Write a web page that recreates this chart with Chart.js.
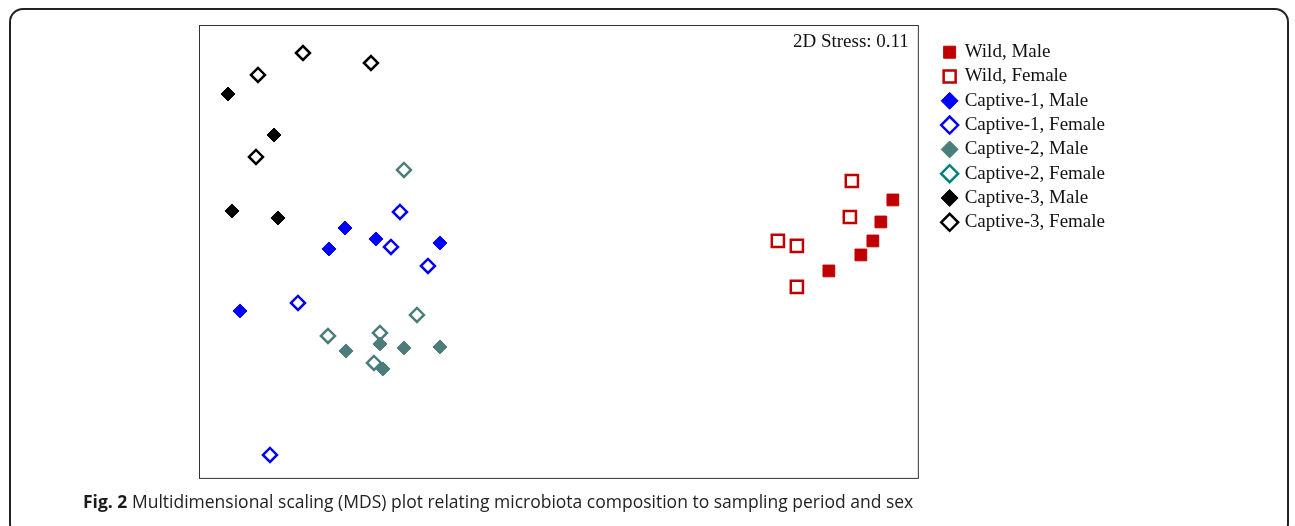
<!DOCTYPE html>
<html>
<head>
<meta charset="utf-8">
<script src="https://cdn.jsdelivr.net/npm/chart.js@4.4.1/dist/chart.umd.min.js"></script>
<style>
  body { margin: 0; background: #fff; }
  .frame {
    position: absolute; left: 9px; top: 8px; width: 1280px; height: 530px;
    border: 2px solid #222; border-radius: 14px; box-sizing: border-box;
  }
  #mds { position: absolute; left: 0; top: 0; }
  .caption {
    position: absolute; left: 83px; top: 489px;
    font-family: "Open Sans", sans-serif; font-size: 17.5px; color: #222; white-space: nowrap;
  }
  .caption b { color: #1a1a1a; }
</style>
</head>
<body>
<div class="frame"></div>
<canvas id="mds" width="1295" height="490"></canvas>
<div class="caption"><b>Fig. 2</b> Multidimensional scaling (MDS) plot relating microbiota composition to sampling period and sex</div>
<script>
// MDS coordinates
const groupNames = [
  'Wild, Male', 'Wild, Female',
  'Captive-1, Male', 'Captive-1, Female',
  'Captive-2, Male', 'Captive-2, Female',
  'Captive-3, Male', 'Captive-3, Female'
];
const wildMale = [[3.34, 0.52], [3.22, 0.30], [3.14, 0.11], [3.02, -0.03], [2.70, -0.19]];
const wildFemale = [[2.93, 0.71], [2.91, 0.35], [2.19, 0.11], [2.38, 0.06], [2.38, -0.35]];
const captive1Male = [[-2.14, 0.24], [-2.30, 0.03], [-1.83, 0.13], [-1.19, 0.09], [-3.19, -0.59]];
const captive1Female = [[-1.59, 0.40], [-1.68, 0.05], [-1.31, -0.14], [-2.61, -0.51], [-2.89, -2.03]];
const captive2Male = [[-2.13, -0.99], [-1.79, -0.92], [-1.55, -0.96], [-1.19, -0.95], [-1.76, -1.17]];
const captive2Female = [[-1.55, 0.82], [-1.42, -0.63], [-2.31, -0.84], [-1.79, -0.81], [-1.85, -1.11]];
const captive3Male = [[-3.31, 1.58], [-2.85, 1.17], [-3.27, 0.41], [-2.81, 0.34]];
const captive3Female = [[-2.56, 1.99], [-3.01, 1.77], [-1.88, 1.89], [-3.03, 0.95]];
const stressLabel = '2D Stress: 0.11';

const groups = [wildMale, wildFemale, captive1Male, captive1Female, captive2Male, captive2Female, captive3Male, captive3Female];
const colors = ['#c00000', '#c00000', '#0000ff', '#0000ff', '#4b7d7a', '#4b7d7a', '#000000', '#000000'];
const legendColors = ['#c00000', '#c00000', '#0000ff', '#0000ff', '#4b7d7a', '#008080', '#000000', '#000000'];

const toPoints = arr => arr.map(([x, y]) => ({ x, y }));

const datasets = groups.map((g, i) => {
  const hollow = i % 2 === 1;
  const square = i < 2;
  return {
    label: groupNames[i],
    data: toPoints(g),
    pointStyle: square ? 'rect' : 'rectRot',
    pointRadius: square ? (hollow ? 8.6 : 8.3) : 7,
    backgroundColor: hollow ? '#ffffff' : colors[i],
    borderColor: colors[i],
    borderWidth: hollow ? 2.5 : 1
  };
});

const frameAndStress = {
  id: 'frameAndStress',
  afterDraw(chart) {
    const { ctx, chartArea: a } = chart;
    ctx.save();
    ctx.strokeStyle = '#333';
    ctx.lineWidth = 1;
    ctx.strokeRect(a.left + 0.5, a.top + 0.5, a.right - a.left - 1, a.bottom - a.top - 1);
    ctx.fillStyle = '#111';
    ctx.font = '19px "Liberation Serif", serif';
    ctx.textAlign = 'right';
    ctx.textBaseline = 'middle';
    ctx.fillText(stressLabel, a.right - 10, a.top + 17);
    ctx.restore();
  }
};

new Chart(document.getElementById('mds'), {
  type: 'scatter',
  data: { datasets },
  options: {
    responsive: false,
    animation: false,
    devicePixelRatio: 1,
    events: [],
    layout: { padding: { left: 199, top: 25, right: 180, bottom: 11 } },
    scales: {
      x: { type: 'linear', display: false, min: -3.6, max: 3.6 },
      y: { type: 'linear', display: false, min: -2.27, max: 2.27 },
      // spacer between plot box and legend
      y2: {
        type: 'linear', position: 'right', display: true,
        ticks: { display: false },
        grid: { display: false, drawTicks: false },
        border: { display: false },
        afterFit: s => { s.width = 20; }
      }
    },
    plugins: {
      tooltip: { enabled: false },
      legend: {
        position: 'right',
        align: 'start',
        title: { display: true, text: '', font: { size: 10, lineHeight: 1 }, padding: 1.2 },
        labels: {
          usePointStyle: true,
          boxWidth: 11,
          boxHeight: 12,
          padding: 5.3,
          color: '#111',
          font: { family: '"Liberation Serif", serif', size: 19 },
          generateLabels: chart => {
            const items = Chart.defaults.plugins.legend.labels.generateLabels(chart);
            items.forEach((it, i) => {
              it.strokeStyle = legendColors[i];
              if (i % 2 === 0) it.fillStyle = legendColors[i];
            });
            return items;
          }
        }
      }
    }
  },
  plugins: [frameAndStress]
});
</script>
</body>
</html>
